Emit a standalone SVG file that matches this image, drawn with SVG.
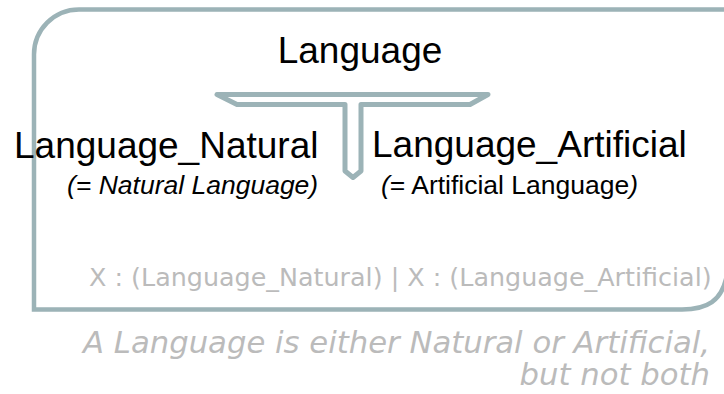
<svg xmlns="http://www.w3.org/2000/svg" width="724" height="394" viewBox="0 0 724 394">
  <style>
    .frame { fill: none; stroke: #9cb3b7; stroke-width: 4.5; }
    .tee { fill: #ffffff; stroke: #9cb3b7; stroke-width: 5; stroke-linejoin: round; }
    .name { font-family: "Liberation Sans", Arial, sans-serif; font-size: 37px; fill: #000000; }
    .alias { font-family: "Liberation Sans", Arial, sans-serif; font-size: 26.5px; fill: #000000; }
    .it { font-style: italic; }
    .rule { font-family: "DejaVu Sans", sans-serif; font-size: 25.4px; fill: #bbbbbb; }
    .note { font-family: "DejaVu Sans", sans-serif; font-size: 30.7px; font-style: italic; fill: #bbbbbb; }
  </style>
  <rect width="724" height="394" fill="#ffffff"/>

  <!-- enclosing frame: rounded top-left and bottom-right corners -->
  <g id="frame">
    <path class="frame" d="M34,309.5 L34,54.5 A45,45 0 0 1 79,9.5 L734,9.5 L734,230 C731,250 729,266 726,279 C721,300 708,309.5 682,309.5 Z"/>
  </g>

  <!-- connector: disjoint union tee -->
  <g id="connectors">
    <path class="tee" d="M217,94.5 L488,94.5 L470,104.5 L361,104.5 L361,171 L353,177.5 L345,171 L345,104.5 L237,104.5 Z"/>
  </g>

  <g id="node-language">
    <text class="name" x="360" y="63" text-anchor="middle">Language</text>
  </g>

  <g id="node-language-natural">
    <text class="name" x="14" y="158">Language_Natural</text>
    <text class="alias it" x="67" y="194">(= Natural Language)</text>
  </g>

  <g id="node-language-artificial">
    <text class="name" x="372" y="157">Language_Artificial</text>
    <text class="alias" x="381" y="194"><tspan class="it">(</tspan>= Artificial Language<tspan class="it">)</tspan></text>
  </g>

  <g id="rule">
    <text class="rule" x="89" y="286">X : (Language_Natural) | X : (Language_Artificial)</text>
  </g>

  <g id="note">
    <text class="note" x="710" y="353" text-anchor="end">A Language is either Natural or Artificial,</text>
    <text class="note" x="710" y="385" text-anchor="end">but not both</text>
  </g>
</svg>
